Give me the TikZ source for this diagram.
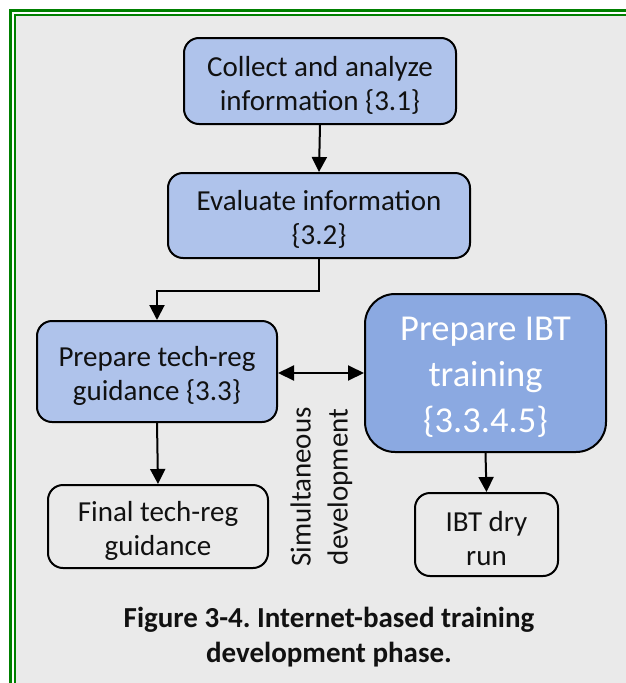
\documentclass[tikz,border=0pt]{standalone}
\usepackage{fontspec}
\setmainfont{Carlito}
\frenchspacing
\usetikzlibrary{arrows.meta}
\definecolor{panelgrey}{HTML}{EAEAEA}
\definecolor{framegreen}{HTML}{008000}
\definecolor{lightblue}{HTML}{AFC3EB}
\definecolor{midblue}{HTML}{8BA9E1}
\definecolor{inkgrey}{HTML}{111111}
\tikzset{
  box/.style={draw=black, line width=2pt, rounded corners=15pt, inner sep=0pt},
  bluebox/.style={box, fill=lightblue},
  plainbox/.style={box, fill=panelgrey},
  bigbox/.style={box, fill=midblue, rounded corners=30pt},
  boxtext/.style={align=center, inner sep=0pt, text=inkgrey,
    font=\fontsize{29}{34}\selectfont},
  bigtext/.style={align=center, inner sep=0pt, text=white,
    font=\fontsize{36.5}{46}\selectfont},
  flow/.style={line width=2pt, -{Triangle[length=15pt,width=15pt]}},
  both/.style={line width=2pt, {Triangle[length=16pt,width=15pt]}-{Triangle[length=16pt,width=15pt]}}
}
\begin{document}
\begin{tikzpicture}[x=1pt,y=-1pt]
  \path[use as bounding box, fill=white] (0,0) rectangle (626,683);
  % double green frame, running past the right and bottom edges
  \begin{scope}
    \clip (0,0) rectangle (626,683);
    \fill[panelgrey] (15,15) rectangle (640,700);
    \draw[framegreen, line width=3pt] (10.5,10.5) rectangle (645,705);
    \draw[framegreen, line width=2pt] (14.5,15) rectangle (641,701);
  \end{scope}

  % process boxes
  \node[bluebox, minimum width=272pt, minimum height=86pt] (collect) at (320,81) {};
  \node[bluebox, minimum width=302pt, minimum height=85pt] (evaluate) at (319,215.5) {};
  \node[bluebox, minimum width=240pt, minimum height=101pt] (techreg) at (157,371.5) {};
  \node[bigbox, minimum width=241pt, minimum height=158pt] (ibt) at (485.5,373) {};
  \node[plainbox, minimum width=220pt, minimum height=83pt] (final) at (158,526.5) {};
  \node[plainbox, minimum width=143pt, minimum height=83pt] (dryrun) at (486.5,534.5) {};

  % box texts
  \node[boxtext] (collect-t) at ([yshift=-4pt]collect.center)
    {Collect and analyze\\information \{3.1\}};
  \node[boxtext] (evaluate-t) at ([yshift=-4pt]evaluate.center)
    {Evaluate information\\\{3.2\}};
  \node[boxtext] (techreg-t) at ([yshift=-4pt]techreg.center)
    {Prepare tech-reg\\guidance \{3.3\}};
  \node[bigtext] (ibt-t) at ([yshift=-4.5pt]ibt.center)
    {Prepare IBT\\training\\\{3.3.4.5\}};
  \node[boxtext] (final-t) at ([yshift=-4pt]final.center)
    {Final tech-reg\\guidance};
  \node[boxtext] (dryrun-t) at ([yshift=-4pt]dryrun.center)
    {IBT dry\\run};

  % connectors
  \draw[flow] (collect.south) -- (evaluate.north);
  \draw[flow] (evaluate.south) |- (157,291) -- (techreg.north);
  \draw[flow] (techreg.south) -- (final.north);
  \draw[flow] (ibt.south) -- (dryrun.north);
  \draw[both] (techreg.east |- 0,373) -- (ibt.west |- 0,373);

  % label on the side
  \node[rotate=90, align=center, text=inkgrey, inner sep=0pt,
    font=\fontsize{29}{37}\selectfont] (simdev) at (321.5,487)
    {Simultaneous\\development};

  % caption
  \node[align=center, text=inkgrey, inner sep=0pt,
    font=\bfseries\fontsize{29}{35}\selectfont] (caption) at (329,637)
    {Figure 3-4. Internet-based training\\development phase.};
\end{tikzpicture}
\end{document}
